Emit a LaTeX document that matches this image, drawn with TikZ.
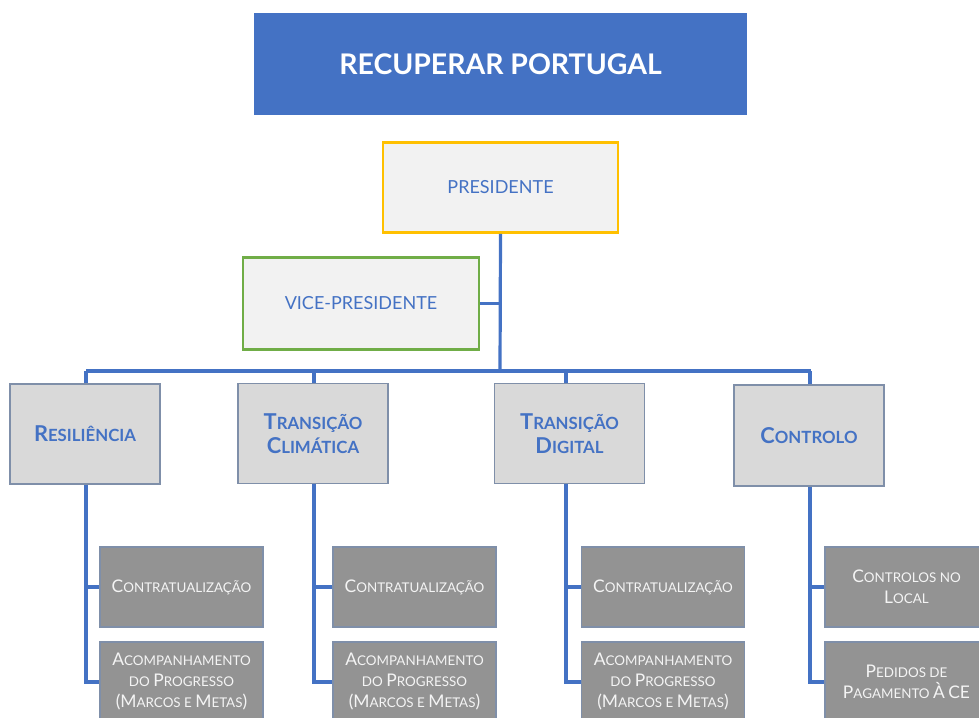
\documentclass[tikz,border=0pt]{standalone}
\usepackage{fontspec}
\usepackage{graphicx}
\setmainfont{Lato}
\newcommand\capl[1]{\scalebox{1.3}{#1}}
\definecolor{mblue}{HTML}{4472C4}
\definecolor{pfill}{HTML}{F2F2F2}
\definecolor{pyel}{HTML}{FFC000}
\definecolor{pgreen}{HTML}{70AD47}
\definecolor{lfill}{HTML}{D9D9D9}
\definecolor{lborder}{HTML}{7F8FA9}
\definecolor{cfill}{HTML}{939393}
\definecolor{ctext}{HTML}{F4F4F4}
\tikzset{
  titlebox/.style={rectangle, fill=mblue, draw=none, text=white, font=\fontsize{28.4}{32}\selectfont\bfseries, inner sep=0pt},
  headbox/.style={rectangle, fill=pfill, line width=2.8pt, text=mblue, font=\fontsize{18}{22}\selectfont, inner sep=0pt},
  areabox/.style={rectangle, fill=lfill, draw=lborder, line width=1.1pt, text=mblue, font=\fontsize{16.8}{24}\selectfont\bfseries, align=center, inner sep=0pt, minimum width=150pt, minimum height=100pt},
  subbox/.style={rectangle, fill=cfill, draw=lborder, line width=1.1pt, text=ctext, font=\fontsize{13.4}{21}\selectfont, align=center, inner sep=0pt, minimum height=80pt},
  conn/.style={draw=mblue, line width=3.2pt}
}
\begin{document}
\begin{tikzpicture}[x=1pt,y=-1pt]
\useasboundingbox (0,0) rectangle (979,717);
\clip (0,0) rectangle (979,717);
\node[titlebox, minimum width=493pt, minimum height=102pt] (title) at (500.5,64) {RECUPERAR PORTUGAL};
\node[headbox, draw=pyel, minimum width=235pt, minimum height=90pt] (pres) at (500.5,187.5) {PRESIDENTE};
\node[headbox, draw=pgreen, minimum width=236pt, minimum height=92pt] (vp) at (361,303.5) {VICE-PRESIDENTE};

\node[areabox] (res) at (85,434) {\capl{R}ESILIÊNCIA};
\node[areabox] (clim) at (313,433.5) {\capl{T}RANSIÇÃO\\\capl{C}LIMÁTICA};
\node[areabox] (dig) at (569.5,433.5) {\capl{T}RANSIÇÃO\\\capl{D}IGITAL};
\node[areabox, minimum height=101pt] (ctl) at (809,435.5) {\capl{C}ONTROLO};

\coordinate (bus) at (500,371);
\draw[conn] (pres.south) -- (bus);
\draw[conn] (vp.east) -- (vp.east -| pres.south);
\draw[conn] (86,371) -- (811,371);
\draw[conn] (res.north -| 86,0) -- (86,371);
\draw[conn] (clim.north -| 314,0) -- (314,371);
\draw[conn] (dig.north -| 566,0) -- (566,371);
\draw[conn] (ctl.north -| 810,0) -- (810,371);

% column 1
\node[subbox, minimum width=163pt] (r1) at (181.5,587) {\capl{C}ONTRATUALIZAÇÃO};
\node[subbox, minimum width=163pt, minimum height=80pt] (r2) at (181.5,682) {\capl{A}COMPANHAMENTO\\DO \capl{P}ROGRESSO\\\capl{(M}ARCOS E \capl{M}ETAS\capl{)}};
\draw[conn] (res.south -| 86,0) |- (r2.west);
\draw[conn] (86,587) -- (r1.west);
% column 2
\node[subbox, minimum width=163pt] (c1) at (414.5,587) {\capl{C}ONTRATUALIZAÇÃO};
\node[subbox, minimum width=163pt] (c2) at (414.5,682) {\capl{A}COMPANHAMENTO\\DO \capl{P}ROGRESSO\\\capl{(M}ARCOS E \capl{M}ETAS\capl{)}};
\draw[conn] (clim.south -| 314,0) |- (c2.west);
\draw[conn] (314,587) -- (c1.west);
% column 3
\node[subbox, minimum width=163pt] (d1) at (663,587) {\capl{C}ONTRATUALIZAÇÃO};
\node[subbox, minimum width=163pt] (d2) at (663,682) {\capl{A}COMPANHAMENTO\\DO \capl{P}ROGRESSO\\\capl{(M}ARCOS E \capl{M}ETAS\capl{)}};
\draw[conn] (dig.south -| 566,0) |- (d2.west);
\draw[conn] (566,587) -- (d1.west);
% column 4
\node[subbox, minimum width=163pt] (k1) at (906.5,587) {\capl{C}ONTROLOS NO\\\capl{L}OCAL};
\node[subbox, minimum width=163pt] (k2) at (906.5,682) {\capl{P}EDIDOS DE\\\capl{P}AGAMENTO \capl{À} \capl{CE}};
\draw[conn] (ctl.south -| 810,0) |- (k2.west);
\draw[conn] (810,587) -- (k1.west);
\end{tikzpicture}
\end{document}
